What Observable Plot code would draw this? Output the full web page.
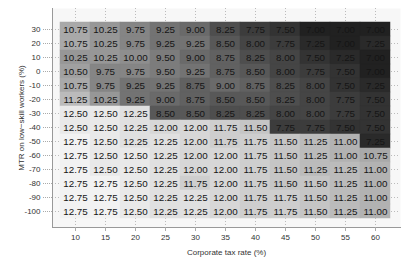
<!DOCTYPE html>
<html>
<head>
<meta charset="utf-8">
<script src="https://cdn.jsdelivr.net/npm/d3@7"></script>
<script src="https://cdn.jsdelivr.net/npm/@observablehq/plot@0.6"></script>
<style>
  html, body { margin: 0; padding: 0; background: #fff; }
  svg { display: block; }
</style>
</head>
<body>
<div id="chart"></div>
<script>
const taxRates = [10, 15, 20, 25, 30, 35, 40, 45, 50, 55, 60];
const mtrLow = [30, 20, 10, 0, -10, -20, -30, -40, -50, -60, -70, -80, -90, -100];
const values = [
  [10.75, 10.25, 9.75, 9.25, 9.00, 8.25, 7.75, 7.50, 7.00, 7.00, 7.00],
  [10.75, 10.25, 9.75, 9.25, 9.25, 8.50, 8.00, 7.75, 7.25, 7.00, 7.25],
  [10.25, 10.25, 10.00, 9.50, 9.00, 8.75, 8.25, 8.00, 7.50, 7.25, 7.00],
  [10.50, 9.75, 9.75, 9.50, 9.25, 8.75, 8.50, 8.00, 7.75, 7.50, 7.00],
  [10.75, 9.75, 9.25, 9.25, 8.75, 9.00, 8.75, 8.25, 8.00, 7.50, 7.25],
  [11.25, 10.25, 9.25, 9.00, 8.75, 8.50, 8.50, 8.25, 8.00, 7.75, 7.50],
  [12.50, 12.50, 12.25, 8.50, 8.50, 8.25, 8.25, 8.00, 8.00, 7.75, 7.50],
  [12.50, 12.50, 12.25, 12.00, 12.00, 11.75, 11.50, 7.75, 7.75, 7.50, 7.50],
  [12.75, 12.50, 12.25, 12.25, 12.00, 11.75, 11.75, 11.50, 11.25, 11.00, 7.25],
  [12.75, 12.50, 12.50, 12.25, 12.00, 12.00, 11.75, 11.50, 11.25, 11.00, 10.75],
  [12.75, 12.50, 12.50, 12.25, 12.00, 12.00, 11.75, 11.50, 11.25, 11.25, 11.00],
  [12.75, 12.75, 12.50, 12.25, 11.75, 12.00, 11.75, 11.50, 11.50, 11.25, 11.00],
  [12.75, 12.75, 12.50, 12.25, 12.25, 12.00, 11.75, 11.75, 11.50, 11.25, 11.00],
  [12.75, 12.75, 12.50, 12.25, 12.25, 12.00, 11.75, 11.75, 11.50, 11.25, 11.00]
];

const data = [];
mtrLow.forEach((m, i) => taxRates.forEach((t, j) => data.push({tax: t, mtr: m, value: values[i][j]})));

const font = "'Liberation Sans', Arial, sans-serif";

const chart = Plot.plot({
  width: 407,
  height: 271,
  marginLeft: 52,
  marginRight: 7,
  marginTop: 8,
  marginBottom: 44,
  style: {fontFamily: font, background: "#fff", color: "#333"},
  x: {type: "band", domain: taxRates, padding: 0, insetLeft: 6.5, insetRight: 8},
  y: {type: "band", domain: mtrLow, padding: 0, insetTop: 7.5, insetBottom: 3.5},
  color: {type: "linear", domain: [7, 12.75], range: ["#212121", "#f2f2f2"]},
  marks: [
    Plot.frame({fill: "#f7f7f7", stroke: null}),
    Plot.gridX({stroke: "#bbb", strokeOpacity: 1, strokeDasharray: "1,2"}),
    Plot.gridY({stroke: "#bbb", strokeOpacity: 1, strokeDasharray: "1,2"}),
    Plot.cell(data, {x: "tax", y: "mtr", fill: "value", stroke: "value", strokeWidth: 0.5, inset: 0}),
    Plot.text(data, {x: "tax", y: "mtr", text: d => d.value.toFixed(2), fill: "#151515", fontSize: 9.8, fontFamily: font}),
    Plot.frame({anchor: "left", stroke: "#999"}),
    Plot.frame({anchor: "bottom", stroke: "#999"}),
    Plot.axisX({tickSize: 4, tickPadding: 3, fontSize: 8, stroke: "#aaa", fill: "#333",
      label: "Corporate tax rate (%)", labelAnchor: "center", labelArrow: "none", labelOffset: 27}),
    Plot.axisY({tickSize: 9, tickPadding: 3, fontSize: 8, stroke: "#aaa", fill: "#333",
      strokeDasharray: "1,1",
      label: "MTR on low−skill workers (%)", labelAnchor: "center", labelArrow: "none", labelOffset: 34})
  ]
});
document.getElementById("chart").appendChild(chart);
</script>
</body>
</html>
